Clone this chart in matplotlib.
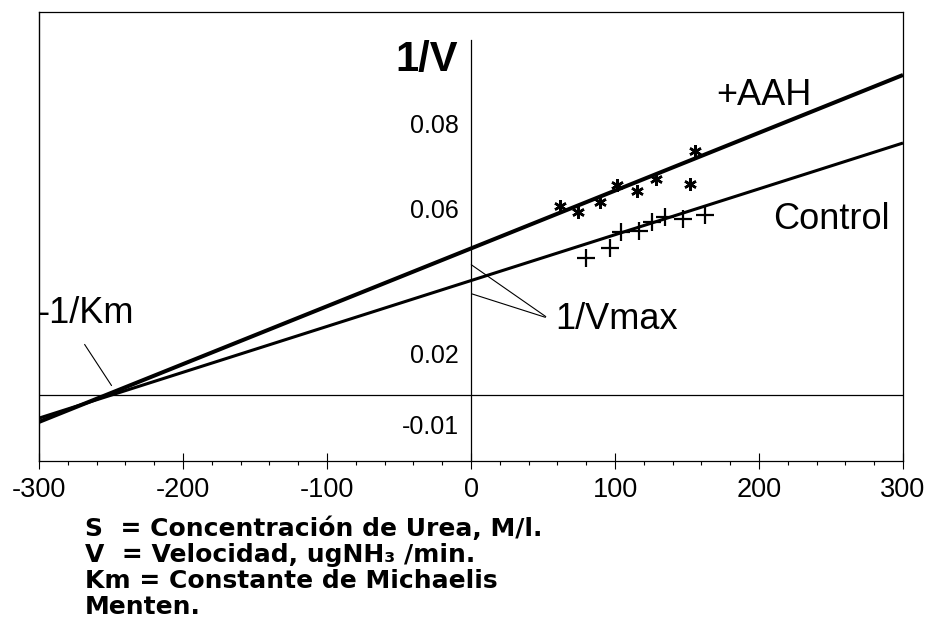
import numpy as np
import matplotlib
matplotlib.use("Agg")
from matplotlib import pyplot as plt
from matplotlib.ticker import MultipleLocator, FixedLocator

# 1/S (eje x) y 1/V (eje y)
aah_x = [61.8, 74.3, 89.6, 101.4, 115.3, 128.5, 152.1, 155.6]
aah_y = [0.0450, 0.0436, 0.0460, 0.0500, 0.0486, 0.0514, 0.0502, 0.0581]
ctrl_x = [79.9, 96.5, 104.2, 116.7, 125.7, 134.7, 147.2, 162.5]
ctrl_y = [0.0326, 0.0350, 0.0388, 0.0390, 0.0412, 0.0424, 0.0419, 0.0429]

# rectas de ajuste (extremos en x = -300 y x = 300)
line_x = [-300, 300]
aah_line = [-0.0064, 0.0762]
ctrl_line = [-0.0055, 0.0600]

x_ticks = [-300, -200, -100, 0, 100, 200, 300]
# las etiquetas del eje y no estan a escala en el original
y_tick_pos = [0.0646, 0.0444, 0.0099, -0.0069]
y_tick_labels = ['0.08', '0.06', '0.02', '-0.01']

notes = ['S  = Concentración de Urea, M/l.',
         'V  = Velocidad, ugNH\u2083 /min.',
         'Km = Constante de Michaelis',
         'Menten.']

plt.rcParams['font.family'] = ['Liberation Sans', 'DejaVu Sans']

fig = plt.figure(figsize=(9.27, 6.2), dpi=100)
ax = fig.add_axes([0.0421, 0.2565, 0.932, 0.7242])
ax.set_xlim(-300, 300)
ax.set_ylim(-0.0157, 0.0912)

ax.plot(line_x, aah_line, color='black', lw=2.9, solid_capstyle='butt')
ax.plot(line_x, ctrl_line, color='black', lw=2.2, solid_capstyle='butt')
ax.plot(aah_x, aah_y, ls='none', marker=(6, 2, 0), ms=9, mew=1.8, color='black')
ax.plot(ctrl_x, ctrl_y, ls='none', marker='+', ms=13, mew=1.6, color='black')

ax.axhline(0, color='black', lw=0.9)
ax.axvline(-300, color='black', lw=1.0, clip_on=False)

# eje y en x = 0
ax.spines['left'].set_position(('data', 0))
ax.spines['left'].set_bounds(-0.0157, 0.0845)
for s in ax.spines.values():
    s.set_linewidth(0.9)
ax.yaxis.set_major_locator(FixedLocator(y_tick_pos))
ax.set_yticklabels(y_tick_labels)
ax.tick_params(axis='y', length=0, pad=9, labelsize=18)

ax.set_xticks(x_ticks)
ax.set_xticklabels([str(v) for v in x_ticks])
ax.xaxis.set_minor_locator(MultipleLocator(20))
ax.tick_params(axis='x', which='major', direction='inout', length=11.5,
               width=0.8, pad=6, labelsize=19.5)
ax.tick_params(axis='x', which='minor', direction='out', length=3, width=0.8)

ax.text(-9, 0.0798, '1/V', ha='right', va='center', fontsize=30, fontweight='bold')
ax.text(203.5, 0.0714, '+AAH', ha='center', va='center', fontsize=26)
ax.text(250, 0.0417, 'Control', ha='center', va='center', fontsize=26)
ax.text(101.4, 0.0181, '1/Vmax', ha='center', va='center', fontsize=26)
ax.text(-301, 0.0193, '-1/Km', ha='left', va='center', fontsize=26, clip_on=False)

ax.annotate('', xy=(-248.6, 0.0017), xytext=(-269.4, 0.0126),
            arrowprops=dict(arrowstyle='-', lw=0.8, color='black'))
ax.annotate('', xy=(-1.4, 0.0314), xytext=(53.5, 0.0183),
            arrowprops=dict(arrowstyle='-', lw=0.8, color='black'))
ax.annotate('', xy=(-1.4, 0.0243), xytext=(53.5, 0.0183),
            arrowprops=dict(arrowstyle='-', lw=0.8, color='black'))

for i, line in enumerate(notes):
    fig.text(85 / 927, 1 - (529 + 26 * i) / 620, line, ha='left', va='center',
             fontsize=18, fontweight='bold', family='DejaVu Sans')

fig.savefig('out.png', dpi=100)
